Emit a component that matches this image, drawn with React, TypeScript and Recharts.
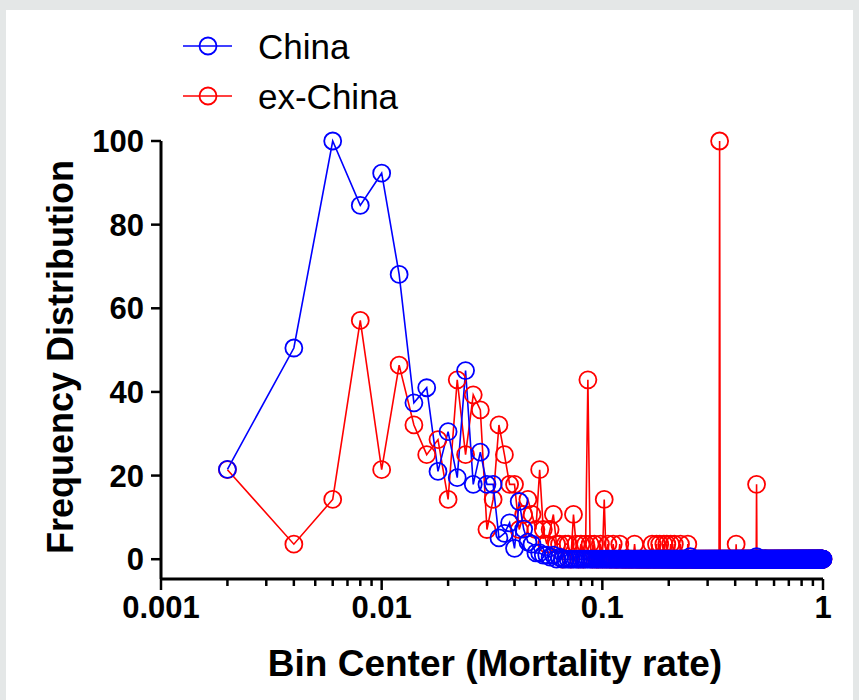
import React from 'react';
import { LineChart, Line, XAxis, YAxis, Legend } from 'recharts';

// histogram bins: centers every 0.002 up to 1.0
const BIN_WIDTH = 0.002;
const BIN_COUNT = 500;
const binCenters: number[] = Array.from({ length: BIN_COUNT }, (_, i) => Number(((i + 1) * BIN_WIDTH).toFixed(3)));

// non-zero bins, every other bin is 0
const chinaNonZero: [number, number][] = [
    [0.002, 21.5], [0.004, 50.5], [0.006, 100], [0.008, 84.6], [0.010, 92.3],
    [0.012, 68.1], [0.014, 37.4], [0.016, 41], [0.018, 21], [0.020, 30.5],
    [0.022, 19.5], [0.024, 45.1], [0.026, 17.9], [0.028, 25.6], [0.030, 17.9],
    [0.032, 17.9], [0.034, 5.1], [0.036, 6.2], [0.038, 8.7], [0.040, 2.6],
    [0.042, 13.8], [0.044, 7.2], [0.046, 4.1], [0.048, 3.6], [0.050, 1.5],
    [0.052, 1.5], [0.054, 1], [0.056, 1], [0.058, 0.5], [0.060, 1],
    [0.064, 0.5], [0.250, 0.6], [0.500, 0.6],
];

const exChinaNonZero: [number, number][] = [
    [0.002, 21.4], [0.004, 3.6], [0.006, 14.3], [0.008, 57.1], [0.010, 21.4],
    [0.012, 46.4], [0.014, 32.1], [0.016, 25], [0.018, 28.6], [0.020, 14.3],
    [0.022, 42.9], [0.024, 25], [0.026, 39.3], [0.028, 35.7], [0.030, 7.1],
    [0.032, 14.3], [0.034, 32.1], [0.036, 25], [0.038, 17.9], [0.040, 17.9],
    [0.042, 7.1], [0.044, 10.7], [0.046, 14.3], [0.048, 10.7], [0.050, 7.1],
    [0.052, 21.4], [0.054, 7.1], [0.056, 3.6], [0.058, 7.1], [0.060, 10.7],
    [0.062, 3.6], [0.064, 3.6], [0.068, 3.6], [0.070, 3.6], [0.074, 10.7],
    [0.076, 3.6], [0.080, 3.6], [0.084, 3.6], [0.086, 42.9], [0.088, 3.6],
    [0.092, 3.6], [0.098, 3.6], [0.102, 14.3], [0.106, 3.6], [0.112, 3.6],
    [0.120, 3.6], [0.140, 3.6], [0.168, 3.6], [0.176, 3.6], [0.182, 3.6],
    [0.190, 3.6], [0.196, 3.6], [0.204, 3.6], [0.212, 3.6], [0.226, 3.6],
    [0.244, 3.6], [0.340, 100], [0.404, 3.6], [0.500, 17.9],
];

const xMajorTicks = [0.001, 0.01, 0.1, 1];
const xMajorLabels = ['0.001', '0.01', '0.1', '1'];
const xMinorTicks = [
    0.002, 0.003, 0.004, 0.005, 0.006, 0.007, 0.008, 0.009,
    0.02, 0.03, 0.04, 0.05, 0.06, 0.07, 0.08, 0.09,
    0.2, 0.3, 0.4, 0.5, 0.6, 0.7, 0.8, 0.9,
];
const yTicks = [0, 20, 40, 60, 80, 100];

const FONT = '"Liberation Sans", Arial, Helvetica, sans-serif';
const BLUE = '#0000ff';
const RED = '#ff0000';

function toSeries(nonZero: [number, number][]) {
    const lookup = new Map(nonZero.map(([x, y]) => [x.toFixed(3), y]));
    return binCenters.map((x) => ({ x, y: lookup.get(x.toFixed(3)) ?? 0 }));
}

const chinaData = toSeries(chinaNonZero);
const exChinaData = toSeries(exChinaNonZero);

const series = [
    { name: 'China', color: BLUE },
    { name: 'ex-China', color: RED },
];

const XTick = (props: any) => {
    const { x, y, payload } = props;
    const idx = xMajorTicks.indexOf(payload.value);
    const major = idx >= 0;
    return (
        <g>
            <line x1={x} x2={x} y1={y} y2={y + (major ? 11 : 7)} stroke="#000" strokeWidth={2.5} />
            {major && (
                <text x={x} y={y + 39} textAnchor="middle" fontSize={31} fontWeight="bold" fontFamily={FONT} fill="#000">
                    {xMajorLabels[idx]}
                </text>
            )}
        </g>
    );
};

const LegendBox = () => (
    <svg width={270} height={110}>
        {series.map((s, i) => {
            const cy = 25 + i * 50;
            return (
                <g key={s.name}>
                    <line x1={7} x2={56} y1={cy} y2={cy} stroke={s.color} strokeWidth={1.5} />
                    <circle cx={32} cy={cy} r={8.5} fill="none" stroke={s.color} strokeWidth={1.8} />
                    <text x={82} y={cy} dominantBaseline="central" fontSize={35} fontFamily={FONT} fill="#000">
                        {s.name}
                    </text>
                </g>
            );
        })}
    </svg>
);

export default function App() {
    return (
        <div style={{ position: 'absolute', left: 0, top: 0, width: 859, height: 700, background: '#e4e7e7' }}>
            <div style={{ position: 'absolute', left: 6, top: 10, right: 6, bottom: 0, background: '#fff' }} />
            <div style={{ position: 'absolute', left: 0, top: 0 }}>
                <LineChart width={859} height={700} margin={{ top: 141, right: 36, bottom: 61, left: 101 }}>
                    <XAxis
                        dataKey="x"
                        type="number"
                        scale="log"
                        domain={[0.001, 1]}
                        ticks={[...xMajorTicks, ...xMinorTicks]}
                        interval={0}
                        height={60}
                        tickSize={0}
                        tickMargin={0}
                        tickLine={false}
                        tick={<XTick />}
                        axisLine={{ stroke: '#000', strokeWidth: 3 }}
                        label={{
                            content: () => (
                                <text x={495} y={663} textAnchor="middle" dominantBaseline="central" fontSize={37} fontWeight="bold" fontFamily={FONT} fill="#000">
                                    Bin Center (Mortality rate)
                                </text>
                            ),
                        }}
                    />
                    <YAxis
                        type="number"
                        domain={[-4.73, 100]}
                        ticks={yTicks}
                        interval={0}
                        width={60}
                        tickSize={10}
                        tickMargin={7}
                        tickLine={{ stroke: '#000', strokeWidth: 2.5 }}
                        axisLine={{ stroke: '#000', strokeWidth: 3 }}
                        tick={{ fill: '#000', fontSize: 31, fontWeight: 'bold', fontFamily: FONT }}
                        label={{
                            content: () => (
                                <text transform="translate(60,357) rotate(-90)" textAnchor="middle" dominantBaseline="central" fontSize={36} fontWeight="bold" fontFamily={FONT} fill="#000">
                                    Frequency Distribution
                                </text>
                            ),
                        }}
                    />
                    <Legend
                        content={<LegendBox />}
                        layout="horizontal"
                        align="center"
                        verticalAlign="middle"
                        wrapperStyle={{ left: 176, top: 21, width: 270, height: 110 }}
                    />
                    <Line
                        data={exChinaData}
                        dataKey="y"
                        name="ex-China"
                        type="linear"
                        stroke={RED}
                        strokeWidth={1.6}
                        dot={{ r: 8.5, stroke: RED, strokeWidth: 1.8, fill: 'none' }}
                        isAnimationActive={false}
                    />
                    <Line
                        data={chinaData}
                        dataKey="y"
                        name="China"
                        type="linear"
                        stroke={BLUE}
                        strokeWidth={1.6}
                        dot={{ r: 8.5, stroke: BLUE, strokeWidth: 1.8, fill: 'none' }}
                        isAnimationActive={false}
                    />
                </LineChart>
            </div>
        </div>
    );
}
